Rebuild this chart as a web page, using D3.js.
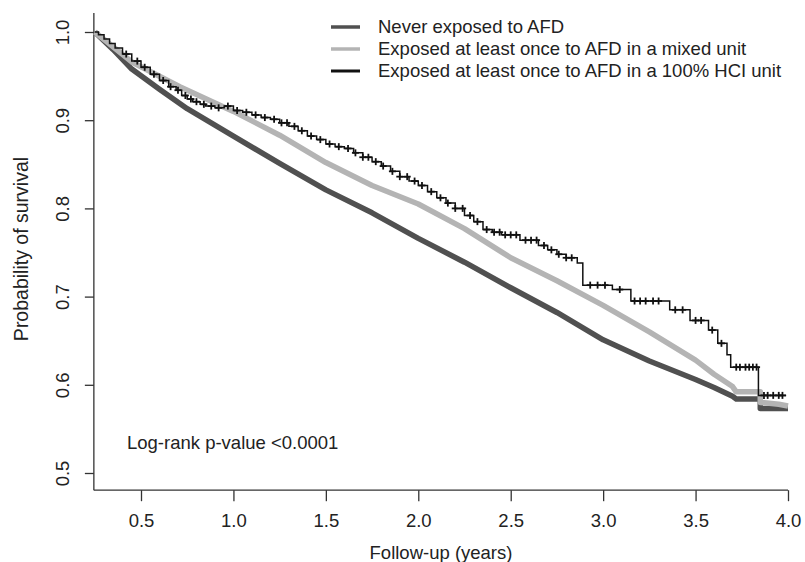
<!DOCTYPE html>
<html>
<head>
<meta charset="utf-8">
<script src="https://cdn.jsdelivr.net/npm/d3@7"></script>
<style>
body{margin:0;background:#fff;}
svg{display:block;}
text{font-family:"Liberation Sans",Arial,sans-serif;fill:#222;}
</style>
</head>
<body>
<svg id="chart" width="805" height="562"></svg>
<script>
// ---- data ----
const seriesNames = [
  "Never exposed to AFD",
  "Exposed at least once to AFD in a mixed unit",
  "Exposed at least once to AFD in a 100% HCI unit"
];
const neverT = [0.25,0.35,0.45,0.6,0.75,1.0,1.25,1.5,1.75,2.0,2.25,2.5,2.75,3.0,3.25,3.5,3.6,3.7,3.72,3.85,3.85,4.0];
const neverS = [1.000,0.980,0.958,0.935,0.913,0.882,0.851,0.821,0.795,0.766,0.739,0.710,0.682,0.651,0.627,0.606,0.597,0.587,0.584,0.584,0.573,0.573];
const mixedT = [0.25,0.45,0.71,1.0,1.25,1.5,1.75,2.0,2.25,2.5,2.75,3.0,3.25,3.5,3.6,3.7,3.72,3.85,3.85,3.95,4.0];
const mixedS = [1.000,0.966,0.938,0.910,0.883,0.852,0.826,0.805,0.777,0.744,0.718,0.690,0.660,0.628,0.612,0.598,0.592,0.592,0.580,0.578,0.576];
const hciT = [0.25,0.27,0.30,0.33,0.36,0.40,0.45,0.50,0.55,0.60,0.65,0.69,0.72,0.75,0.78,0.82,0.85,0.90,0.95,1.00,1.05,1.10,1.15,1.20,1.25,1.30,1.35,1.40,1.45,1.50,1.55,1.60,1.65,1.70,1.75,1.80,1.85,1.90,1.95,2.00,2.05,2.10,2.15,2.20,2.25,2.30,2.35,2.40,2.45,2.55,2.65,2.70,2.75,2.80,2.86,2.89,3.05,3.15,3.36,3.47,3.57,3.62,3.67,3.69,3.84,3.99];
const hciS = [1.000,0.997,0.992,0.987,0.982,0.975,0.967,0.960,0.952,0.945,0.938,0.934,0.928,0.924,0.921,0.918,0.916,0.914,0.916,0.911,0.909,0.906,0.903,0.901,0.897,0.893,0.888,0.882,0.878,0.873,0.870,0.868,0.863,0.858,0.853,0.848,0.842,0.836,0.831,0.826,0.819,0.812,0.806,0.800,0.792,0.785,0.776,0.773,0.770,0.764,0.758,0.753,0.748,0.744,0.738,0.713,0.708,0.695,0.685,0.673,0.662,0.647,0.634,0.620,0.588,0.588];
const hciCensor = [0.42,0.48,0.52,0.57,0.62,0.66,0.70,0.74,0.77,0.80,0.84,0.88,0.92,0.97,1.02,1.07,1.12,1.17,1.22,1.26,1.29,1.33,1.37,1.42,1.47,1.52,1.57,1.62,1.66,1.70,1.73,1.77,1.81,1.86,1.90,1.94,1.98,2.02,2.07,2.12,2.16,2.20,2.24,2.28,2.32,2.37,2.41,2.44,2.47,2.50,2.53,2.58,2.61,2.64,2.68,2.72,2.76,2.80,2.83,2.93,2.97,3.01,3.09,3.17,3.20,3.23,3.27,3.30,3.39,3.43,3.50,3.53,3.59,3.64,3.72,3.74,3.77,3.79,3.81,3.83,3.87,3.89,3.92,3.95,3.97];
const xTicks = [0.5,1.0,1.5,2.0,2.5,3.0,3.5,4.0];
const yTicks = [0.5,0.6,0.7,0.8,0.9,1.0];
const xTitle = "Follow-up (years)";
const yTitle = "Probability of survival";
const note = "Log-rank p-value <0.0001";

// ---- drawing ----
const svg = d3.select("#chart");
const x = d3.scaleLinear().domain([0.5,4.0]).range([141,788]);
const y = d3.scaleLinear().domain([0.5,1.0]).range([473,32]);
const fs = 18.5;

// axes frame (L shape)
const x0 = x(0.245), yTop = y(1.0215), yBot = y(0.4805);
svg.append("line").attr("x1",x0).attr("x2",x0).attr("y1",yTop).attr("y2",yBot).attr("stroke","#333").attr("stroke-width",1.3);
svg.append("line").attr("x1",x0).attr("x2",x(4.0)).attr("y1",yBot).attr("y2",yBot).attr("stroke","#333").attr("stroke-width",1.3);

const gx = svg.append("g").attr("transform",`translate(0,${yBot})`)
  .call(d3.axisBottom(x).tickValues(xTicks).tickFormat(d3.format(".1f")).tickSize(11).tickPadding(13));
gx.select(".domain").remove();
gx.selectAll("line").attr("stroke","#333").attr("stroke-width",1.3);
gx.selectAll("text").attr("font-size",fs).attr("fill","#222").style("font-family","Liberation Sans, Arial, sans-serif");

const gy = svg.append("g").attr("transform",`translate(${x0},0)`)
  .call(d3.axisLeft(y).tickValues(yTicks).tickFormat(d3.format(".1f")).tickSize(9).tickPadding(0));
gy.select(".domain").remove();
gy.selectAll("line").attr("stroke","#333").attr("stroke-width",1.3);
gy.selectAll("text").attr("font-size",fs).attr("fill","#222").style("font-family","Liberation Sans, Arial, sans-serif")
  .attr("x",null).attr("dy",null).attr("text-anchor","middle")
  .attr("transform","translate(-31,0) rotate(-90)").attr("dy","0.35em");

// titles
svg.append("text").attr("x",441).attr("y",559).attr("text-anchor","middle").attr("font-size",fs).text(xTitle);
svg.append("text").attr("transform","translate(28,249) rotate(-90)").attr("text-anchor","middle").attr("font-size",19.5).text(yTitle);
svg.append("text").attr("x",127).attr("y",449).attr("font-size",fs).text(note);

// curves
const lineLin = d3.line().x(d=>x(d[0])).y(d=>y(d[1]));
const lineStep = d3.line().x(d=>x(d[0])).y(d=>y(d[1])).curve(d3.curveStepAfter);
const zip = (a,b)=>a.map((v,i)=>[v,b[i]]);
const colors = ["#505050","#b4b4b4","#111111"];
svg.append("path").datum(zip(neverT,neverS)).attr("d",lineLin).attr("fill","none").attr("stroke",colors[0]).attr("stroke-width",5.5).attr("stroke-linejoin","round");
svg.append("path").datum(zip(mixedT,mixedS)).attr("d",lineLin).attr("fill","none").attr("stroke",colors[1]).attr("stroke-width",5.5).attr("stroke-linejoin","round");
svg.append("path").datum(zip(hciT,hciS)).attr("d",lineStep).attr("fill","none").attr("stroke",colors[2]).attr("stroke-width",1.5);

// censor marks on HCI curve
function hciAt(t){ let v = hciS[0]; for(let i=0;i<hciT.length;i++){ if(hciT[i]<=t) v=hciS[i]; } return v; }
const cg = svg.append("g");
hciCensor.forEach(t=>{
  const cx = x(t), cy = y(hciAt(t));
  cg.append("line").attr("x1",cx-3.5).attr("x2",cx+3.5).attr("y1",cy).attr("y2",cy).attr("stroke",colors[2]).attr("stroke-width",1.8);
  cg.append("line").attr("x1",cx).attr("x2",cx).attr("y1",cy-3.5).attr("y2",cy+3.5).attr("stroke",colors[2]).attr("stroke-width",1.8);
});

// legend
const legY = [27,49,71];
const legW = [3.5,3.5,3];
seriesNames.forEach((n,i)=>{
  svg.append("line").attr("x1",331).attr("x2",360).attr("y1",legY[i]).attr("y2",legY[i]).attr("stroke",colors[i]).attr("stroke-width",legW[i]);
  svg.append("text").attr("x",378).attr("y",legY[i]).attr("dy","0.35em").attr("font-size",fs).text(n);
});
</script>
</body>
</html>
